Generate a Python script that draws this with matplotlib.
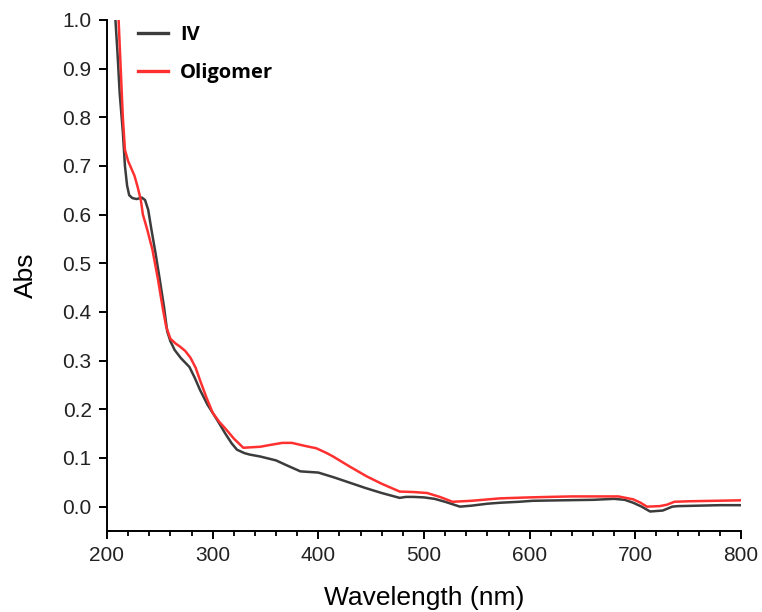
"""UV-Vis absorbance spectra of IV and its oligomer."""

import matplotlib
matplotlib.use("Agg")
import matplotlib.pyplot as plt
from matplotlib.ticker import MultipleLocator

# --- data ---
WL_IV = [208, 210, 212, 215, 217, 219, 221, 224, 228, 233, 236, 239, 242, 246, 250, 254, 257,
         260, 264, 270, 278, 283, 288, 295, 304, 312, 318, 323, 330, 335, 345, 360, 370, 383,
         400, 415, 430, 445, 460, 477, 483, 490, 500, 510, 520, 534, 545, 560, 572, 590, 603,
         630, 660, 680, 690, 698, 706, 714, 720, 726, 735, 740, 760, 780, 800]
ABS_IV = [1.0, 0.93, 0.85, 0.77, 0.70, 0.66, 0.64, 0.634, 0.632, 0.635, 0.63, 0.61, 0.57, 0.52,
          0.466, 0.41, 0.36, 0.34, 0.322, 0.305, 0.287, 0.265, 0.24, 0.21, 0.179, 0.15, 0.13,
          0.117, 0.11, 0.107, 0.103, 0.095, 0.085, 0.0725, 0.07, 0.06, 0.049, 0.038, 0.028,
          0.018, 0.02, 0.02, 0.019, 0.016, 0.01, 0.0, 0.002, 0.006, 0.008, 0.01, 0.012, 0.013,
          0.014, 0.016, 0.014, 0.008, 0.0, -0.01, -0.009, -0.008, 0.0, 0.001, 0.002, 0.003, 0.003]

WL_OLIGO = [211, 213, 215, 217, 220, 223, 226, 229, 232, 234, 238, 243, 248, 253, 256, 260, 265,
            269, 274, 279, 284, 288, 294, 300, 306, 313, 320, 329, 337, 345, 355, 366, 375, 389,
            398, 408, 414, 430, 446, 460, 477, 490, 503, 515, 527, 545, 572, 600, 619, 640, 666,
            684, 698, 705, 711, 723, 730, 737, 750, 775, 800]
ABS_OLIGO = [1.0, 0.90, 0.80, 0.733, 0.71, 0.695, 0.68, 0.657, 0.63, 0.60, 0.57, 0.528, 0.47,
             0.405, 0.37, 0.345, 0.335, 0.329, 0.32, 0.306, 0.285, 0.26, 0.225, 0.193, 0.175,
             0.158, 0.14, 0.121, 0.122, 0.123, 0.127, 0.131, 0.131, 0.124, 0.12, 0.11, 0.103,
             0.082, 0.062, 0.047, 0.031, 0.03, 0.028, 0.02, 0.01, 0.012, 0.017, 0.019, 0.02,
             0.021, 0.021, 0.021, 0.015, 0.008, 0.0, 0.001, 0.004, 0.01, 0.011, 0.012, 0.013]

SERIES = [("IV", WL_IV, ABS_IV, "#3c3c3c"), ("Oligomer", WL_OLIGO, ABS_OLIGO, "#ff3030")]


def main():
    plt.rcParams["font.family"] = ["Liberation Sans", "DejaVu Sans"]
    fig = plt.figure(figsize=(7.62, 6.12), dpi=100)
    ax = fig.add_axes([0.1404, 0.1324, 0.832, 0.835])

    for label, wl, ab, color in SERIES:
        ax.plot(wl, ab, color=color, linewidth=1.8, label=label)

    ax.set_xlim(200, 800)
    ax.set_ylim(-0.05, 1.0)
    ax.xaxis.set_major_locator(MultipleLocator(100))
    ax.xaxis.set_minor_locator(MultipleLocator(20))
    ax.set_yticks([i / 10 for i in range(11)])
    ax.set_yticklabels([f"{i / 10:.1f}" for i in range(11)])

    for side in ("top", "right"):
        ax.spines[side].set_visible(False)
    for side in ("left", "bottom"):
        ax.spines[side].set_linewidth(1.4)
    ax.tick_params(which="major", direction="out", length=6, width=1.4, pad=5,
                   labelsize=15, labelcolor="#222222")
    ax.tick_params(which="minor", direction="out", length=3.5, width=1.3)

    ax.set_xlabel("Wavelength (nm)", fontsize=19, labelpad=15)
    ax.set_ylabel("Abs", fontsize=19, labelpad=18)

    leg = ax.legend(loc="upper left", bbox_to_anchor=(138 / 762, 1 - 25 / 612),
                    bbox_transform=fig.transFigure, frameon=False, borderpad=0,
                    borderaxespad=0, handlelength=1.5, handletextpad=0.6, labelspacing=0.9,
                    prop={"family": ["Open Sans", "DejaVu Sans"], "weight": "bold", "size": 14.5})
    for line in leg.get_lines():
        line.set_linewidth(2.4)

    fig.savefig("out.png", dpi=100)
    plt.close(fig)


if __name__ == "__main__":
    main()
